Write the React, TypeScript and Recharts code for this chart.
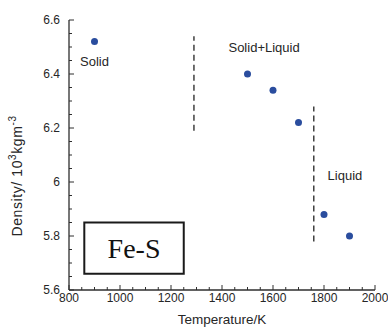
import {
  ScatterChart, Scatter, XAxis, YAxis, ReferenceLine, ReferenceArea, ReferenceDot, Label,
} from 'recharts'

// measured points (temperature K, density 10^3 kg/m^3)
const temps = [900, 1500, 1600, 1700, 1800, 1900]
const densities = [6.52, 6.40, 6.34, 6.22, 5.88, 5.80]

const X_DOMAIN: [number, number] = [800, 2000]
const Y_DOMAIN: [number, number] = [5.6, 6.6]
const X_MAJOR = [800, 1000, 1200, 1400, 1600, 1800, 2000]
const Y_MAJOR = [5.6, 5.8, 6, 6.2, 6.4, 6.6]

// phase boundaries (dashed)
const solidusT = 1290
const solidusY = [6.19, 6.54]
const liquidusT = 1760
const liquidusY = [5.78, 6.28]

const phaseLabels = [
  { text: 'Solid', x: 900, y: 6.445 },
  { text: 'Solid+Liquid', x: 1565, y: 6.5 },
  { text: 'Liquid', x: 1882, y: 6.025 },
]

const data = temps.map((t, i) => ({ t, d: densities[i] }))

// minor ticks every 50 K / 0.05
const xTicks = Array.from({ length: 25 }, (_, i) => 800 + i * 50)
const yTicks = Array.from({ length: 21 }, (_, i) => Math.round((5.6 + i * 0.05) * 100) / 100)

const AXIS = '#2e2e2e'
const TEXT = '#262626'
const DOT = '#2a4d9e'
const FONT = '"Liberation Sans", Arial, sans-serif'

const isMajor = (v: number, list: number[]) => list.some((m) => Math.abs(m - v) < 1e-6)

function BottomTick({ x, y, payload }: any) {
  const major = isMajor(payload.value, X_MAJOR)
  return (
    <g>
      <line x1={x} x2={x} y1={y} y2={y - (major ? 5 : 3)} stroke={AXIS} />
      {major && (
        <text x={x} y={y + 12} textAnchor="middle" fontSize={12} fill={TEXT} fontFamily={FONT}>
          {payload.value}
        </text>
      )}
    </g>
  )
}

function TopTick({ x, y, payload }: any) {
  const major = isMajor(payload.value, X_MAJOR)
  return <line x1={x} x2={x} y1={y} y2={y + (major ? 5 : 3)} stroke={AXIS} />
}

function LeftTick({ x, y, payload }: any) {
  const major = isMajor(payload.value, Y_MAJOR)
  return (
    <g>
      <line x1={x} x2={x + (major ? 5 : 3)} y1={y} y2={y} stroke={AXIS} />
      {major && (
        <text x={x - 9} y={y + 4} textAnchor="end" fontSize={12} fill={TEXT} fontFamily={FONT}>
          {payload.value}
        </text>
      )}
    </g>
  )
}

function RightTick({ x, y, payload }: any) {
  const major = isMajor(payload.value, Y_MAJOR)
  return <line x1={x} x2={x - (major ? 5 : 3)} y1={y} y2={y} stroke={AXIS} />
}

function YTitle({ viewBox }: any) {
  const cx = viewBox.x + 13
  const cy = 176
  return (
    <text
      x={cx}
      y={cy}
      transform={`rotate(-90 ${cx} ${cy})`}
      textAnchor="middle"
      fontSize={14}
      letterSpacing={0.6}
      fill={TEXT}
      fontFamily={FONT}
    >
      Density/ 10
      <tspan dy={-6} fontSize={10}>3</tspan>
      <tspan dy={6}>kgm</tspan>
      <tspan dy={-6} fontSize={10}>-3</tspan>
    </text>
  )
}

export default function App() {
  return (
    <div style={{ width: 388, height: 331, background: '#fff' }}>
      <style>{'body{margin:0}'}</style>
      <ScatterChart
        width={388}
        height={331}
        margin={{ top: 20, right: 13, bottom: 11, left: 9 }}
      >
        <XAxis
          xAxisId="b"
          type="number"
          dataKey="t"
          domain={X_DOMAIN}
          ticks={xTicks}
          interval={0}
          tickSize={0}
          tickMargin={0}
          tick={<BottomTick />}
          axisLine={{ stroke: AXIS, strokeWidth: 1.3 }}
          height={30}
        >
          <Label
            value="Temperature/K"
            position="bottom"
            offset={-6}
            fontSize={13.5}
            fill={TEXT}
            fontFamily={FONT}
          />
        </XAxis>
        <XAxis
          xAxisId="t"
          orientation="top"
          type="number"
          domain={X_DOMAIN}
          ticks={xTicks}
          interval={0}
          tickSize={0}
          tickMargin={0}
          tick={<TopTick />}
          axisLine={{ stroke: AXIS, strokeWidth: 1.3 }}
          height={0}
        />
        <YAxis
          yAxisId="l"
          type="number"
          dataKey="d"
          domain={Y_DOMAIN}
          ticks={yTicks}
          interval={0}
          tickSize={0}
          tickMargin={0}
          tick={<LeftTick />}
          axisLine={{ stroke: AXIS, strokeWidth: 1.3 }}
          width={60}
          label={<YTitle />}
        />
        <YAxis
          yAxisId="r"
          orientation="right"
          type="number"
          domain={Y_DOMAIN}
          ticks={yTicks}
          interval={0}
          tickSize={0}
          tickMargin={0}
          tick={<RightTick />}
          axisLine={{ stroke: AXIS, strokeWidth: 1.3 }}
          width={0}
        />

        <ReferenceLine
          xAxisId="b"
          yAxisId="l"
          segment={[{ x: solidusT, y: solidusY[0] }, { x: solidusT, y: solidusY[1] }]}
          stroke="#222"
          strokeWidth={1.3}
          strokeDasharray="6 4"
        />
        <ReferenceLine
          xAxisId="b"
          yAxisId="l"
          segment={[{ x: liquidusT, y: liquidusY[0] }, { x: liquidusT, y: liquidusY[1] }]}
          stroke="#222"
          strokeWidth={1.3}
          strokeDasharray="6 4"
        />

        <ReferenceArea
          xAxisId="b"
          yAxisId="l"
          x1={860}
          x2={1250}
          y1={5.66}
          y2={5.85}
          fill="#fff"
          fillOpacity={1}
          stroke="#1a1a1a"
          strokeWidth={2}
        >
          <Label
            value="Fe-S"
            position="center"
            fontSize={28}
            fill="#111"
            fontFamily='"Liberation Serif", "Times New Roman", serif'
          />
        </ReferenceArea>

        {phaseLabels.map((p) => (
          <ReferenceDot key={p.text} xAxisId="b" yAxisId="l" x={p.x} y={p.y} r={0} stroke="none">
            <Label value={p.text} position="center" fontSize={13} fill={TEXT} fontFamily={FONT} />
          </ReferenceDot>
        ))}

        <Scatter
          xAxisId="b"
          yAxisId="l"
          data={data}
          isAnimationActive={false}
          shape={(p: any) => <circle cx={p.cx} cy={p.cy} r={3.5} fill={DOT} />}
        />
      </ScatterChart>
    </div>
  )
}
